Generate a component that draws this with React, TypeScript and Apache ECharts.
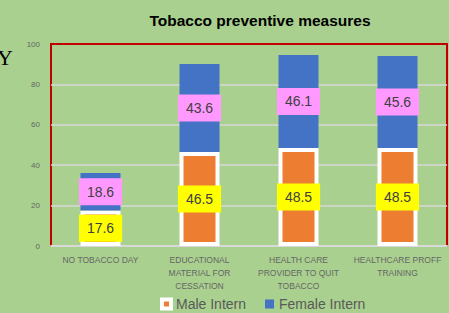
import React, { useEffect, useRef } from "react";
import * as echarts from "echarts";

const categories = [
  "NO TOBACCO DAY",
  "EDUCATIONAL\nMATERIAL FOR\nCESSATION",
  "HEALTH CARE\nPROVIDER TO QUIT\nTOBACCO",
  "HEALTHCARE PROFF\nTRAINING",
];
const maleValues = [17.6, 46.5, 48.5, 48.5];
const femaleValues = [18.6, 43.6, 46.1, 45.6];
const yTicks = { min: 0, max: 100, interval: 20 };

export default function App() {
  const ref = useRef<HTMLDivElement>(null);
  useEffect(() => {
    if (!ref.current) return;
    const chart = echarts.init(ref.current, undefined, { renderer: "svg" });
    const labelCommon = {
      show: true,
      position: "inside",
      color: "#404040",
      fontSize: 14,
      fontFamily: "Liberation Sans",
      padding: [7, 8, 6, 8],
    };
    chart.setOption({
      animation: false,
      backgroundColor: "#a9d08e",
      title: {
        text: "Tobacco preventive measures",
        left: 255,
        textAlign: "center",
        top: 7,
        textStyle: { fontSize: 15.5, fontWeight: "bold", color: "#000", fontFamily: "Liberation Sans" },
      },
      graphic: [
        {
          type: "text",
          left: -3,
          top: 46,
          style: { text: "Y", fontSize: 22, fontFamily: "Liberation Serif", fill: "#000" },
        },
      ],
      legend: {
        left: 155,
        top: 292,
        itemWidth: 9,
        itemHeight: 9,
        itemGap: 19,
        icon: "rect",
        textStyle: { fontSize: 14, color: "#595959", fontFamily: "Liberation Sans" },
        data: [
          { name: "Male Intern", itemStyle: { borderColor: "#ffffff", borderWidth: 4 } },
          { name: "Female Intern", itemStyle: { borderWidth: 0 } },
        ],
      },
      grid: {
        left: 51,
        right: 2,
        top: 44,
        bottom: 67,
        show: true,
        borderColor: "#c00000",
        borderWidth: 2,
        backgroundColor: "transparent",
      },
      xAxis: {
        type: "category",
        data: categories,
        axisTick: { show: false },
        axisLine: { lineStyle: { color: "#d9d9d9", width: 2 } },
        axisLabel: {
          interval: 0,
          fontSize: 8.5,
          lineHeight: 13,
          color: "#666666",
          margin: 7,
          fontFamily: "Liberation Sans",
        },
      },
      yAxis: {
        type: "value",
        min: yTicks.min,
        max: yTicks.max,
        interval: yTicks.interval,
        axisLine: { show: false },
        axisTick: { show: false },
        axisLabel: { fontSize: 8, color: "#666666", margin: 11, fontFamily: "Liberation Sans" },
        splitLine: { showMaxLine: false, showMinLine: false, lineStyle: { color: "#d9d9d9", width: 1.5 } },
      },
      series: [
        {
          name: "Male Intern",
          type: "bar",
          stack: "total",
          barWidth: 40,
          data: maleValues,
          itemStyle: { color: "#ed7d31", borderColor: "#ffffff", borderWidth: 4 },
          label: { ...labelCommon, backgroundColor: "#ffff00" },
        },
        {
          name: "Female Intern",
          type: "bar",
          stack: "total",
          barWidth: 40,
          data: femaleValues,
          itemStyle: { color: "#4472c4" },
          label: { ...labelCommon, backgroundColor: "#ff99ff" },
        },
      ],
    });
    return () => chart.dispose();
  }, []);
  return (
    <div
      ref={ref}
      style={{ position: "fixed", left: 0, top: 0, width: 449, height: 313 }}
    />
  );
}
